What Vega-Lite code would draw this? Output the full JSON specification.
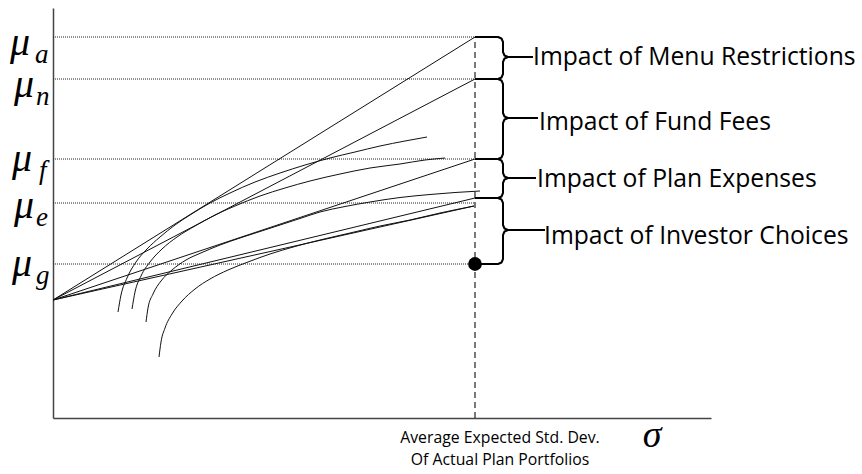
{
  "$schema": "https://vega.github.io/schema/vega-lite/v6.json",
  "width": 658,
  "height": 410,
  "autosize": {"type": "none"},
  "padding": {"left": 53, "top": 8, "right": 151, "bottom": 56},
  "background": "white",
  "config": {
    "view": {"stroke": null},
    "axis": {"labels": false, "ticks": false, "grid": false, "domainColor": "#444", "domainWidth": 1.5}
  },
  "datasets": {
    "hl": [
      {"x": 0, "x2": 422, "y": 381},
      {"x": 0, "x2": 422, "y": 339},
      {"x": 0, "x2": 422, "y": 259},
      {"x": 0, "x2": 422, "y": 215},
      {"x": 0, "x2": 422, "y": 154}
    ],
    "vl": [{"x": 422, "y": 0, "y2": 381}],
    "paths": [
      {"id": "L1", "o": 1, "x": 0, "y": 118}, {"id": "L1", "o": 2, "x": 422, "y": 381},
      {"id": "L2", "o": 1, "x": 0, "y": 118}, {"id": "L2", "o": 2, "x": 422, "y": 339},
      {"id": "L3", "o": 1, "x": 0, "y": 118}, {"id": "L3", "o": 2, "x": 422, "y": 259},
      {"id": "L4", "o": 1, "x": 0, "y": 118}, {"id": "L4", "o": 2, "x": 422, "y": 220},
      {"id": "L5", "o": 1, "x": 0, "y": 118}, {"id": "L5", "o": 2, "x": 421, "y": 212},
      {"id": "A", "o": 1, "x": 65, "y": 106}, {"id": "A", "o": 2, "x": 68, "y": 123},
      {"id": "A", "o": 3, "x": 74, "y": 140}, {"id": "A", "o": 4, "x": 83, "y": 156},
      {"id": "A", "o": 5, "x": 94, "y": 169}, {"id": "A", "o": 6, "x": 107, "y": 181},
      {"id": "A", "o": 7, "x": 122, "y": 193}, {"id": "A", "o": 8, "x": 137, "y": 203},
      {"id": "A", "o": 9, "x": 157, "y": 215}, {"id": "A", "o": 10, "x": 177, "y": 225},
      {"id": "A", "o": 11, "x": 202, "y": 236}, {"id": "A", "o": 12, "x": 227, "y": 245},
      {"id": "A", "o": 13, "x": 252, "y": 253}, {"id": "A", "o": 14, "x": 277, "y": 260},
      {"id": "A", "o": 15, "x": 302, "y": 266}, {"id": "A", "o": 16, "x": 327, "y": 272},
      {"id": "A", "o": 17, "x": 352, "y": 277}, {"id": "A", "o": 18, "x": 374, "y": 281},
      {"id": "B", "o": 1, "x": 79, "y": 109}, {"id": "B", "o": 2, "x": 82, "y": 126},
      {"id": "B", "o": 3, "x": 88, "y": 142}, {"id": "B", "o": 4, "x": 97, "y": 156},
      {"id": "B", "o": 5, "x": 109, "y": 169}, {"id": "B", "o": 6, "x": 124, "y": 181},
      {"id": "B", "o": 7, "x": 142, "y": 192}, {"id": "B", "o": 8, "x": 162, "y": 203},
      {"id": "B", "o": 9, "x": 182, "y": 212}, {"id": "B", "o": 10, "x": 207, "y": 222},
      {"id": "B", "o": 11, "x": 232, "y": 230}, {"id": "B", "o": 12, "x": 257, "y": 237},
      {"id": "B", "o": 13, "x": 287, "y": 244}, {"id": "B", "o": 14, "x": 317, "y": 250},
      {"id": "B", "o": 15, "x": 347, "y": 254}, {"id": "B", "o": 16, "x": 372, "y": 258},
      {"id": "B", "o": 17, "x": 392, "y": 260},
      {"id": "C", "o": 1, "x": 93, "y": 96}, {"id": "C", "o": 2, "x": 95, "y": 110},
      {"id": "C", "o": 3, "x": 100, "y": 124}, {"id": "C", "o": 4, "x": 108, "y": 137},
      {"id": "C", "o": 5, "x": 119, "y": 148}, {"id": "C", "o": 6, "x": 133, "y": 158},
      {"id": "C", "o": 7, "x": 149, "y": 165.5}, {"id": "C", "o": 8, "x": 167, "y": 173},
      {"id": "C", "o": 9, "x": 187, "y": 180}, {"id": "C", "o": 10, "x": 207, "y": 186.5},
      {"id": "C", "o": 11, "x": 227, "y": 193}, {"id": "C", "o": 12, "x": 247, "y": 199.5},
      {"id": "C", "o": 13, "x": 267, "y": 206}, {"id": "C", "o": 14, "x": 292, "y": 211.5},
      {"id": "C", "o": 15, "x": 317, "y": 216}, {"id": "C", "o": 16, "x": 347, "y": 220.5},
      {"id": "C", "o": 17, "x": 377, "y": 223.5}, {"id": "C", "o": 18, "x": 402, "y": 225.5},
      {"id": "C", "o": 19, "x": 427, "y": 227},
      {"id": "D", "o": 1, "x": 106, "y": 61}, {"id": "D", "o": 2, "x": 108, "y": 76},
      {"id": "D", "o": 3, "x": 112, "y": 90}, {"id": "D", "o": 4, "x": 119, "y": 104},
      {"id": "D", "o": 5, "x": 129, "y": 117}, {"id": "D", "o": 6, "x": 142, "y": 129},
      {"id": "D", "o": 7, "x": 157, "y": 139}, {"id": "D", "o": 8, "x": 175, "y": 148},
      {"id": "D", "o": 9, "x": 195, "y": 156}, {"id": "D", "o": 10, "x": 217, "y": 164},
      {"id": "D", "o": 11, "x": 242, "y": 171.5}, {"id": "D", "o": 12, "x": 267, "y": 178},
      {"id": "D", "o": 13, "x": 297, "y": 185}, {"id": "D", "o": 14, "x": 327, "y": 192},
      {"id": "D", "o": 15, "x": 357, "y": 198}, {"id": "D", "o": 16, "x": 387, "y": 205},
      {"id": "D", "o": 17, "x": 421, "y": 212}
    ],
    "braces": [
      {"b": 1, "o": 1, "x": 422, "y": 381}, {"b": 1, "o": 2, "x": 445, "y": 381},
      {"b": 1, "o": 3, "x": 448.5, "y": 379.5}, {"b": 1, "o": 4, "x": 450, "y": 376},
      {"b": 1, "o": 5, "x": 450, "y": 366}, {"b": 1, "o": 6, "x": 451.5, "y": 362.5},
      {"b": 1, "o": 7, "x": 455, "y": 361}, {"b": 1, "o": 8, "x": 451.5, "y": 359.5},
      {"b": 1, "o": 9, "x": 450, "y": 356}, {"b": 1, "o": 10, "x": 450, "y": 344},
      {"b": 1, "o": 11, "x": 448.5, "y": 340.5}, {"b": 1, "o": 12, "x": 445, "y": 339},
      {"b": 1, "o": 13, "x": 422, "y": 339},
      {"b": 2, "o": 1, "x": 422, "y": 339}, {"b": 2, "o": 2, "x": 445, "y": 339},
      {"b": 2, "o": 3, "x": 448.5, "y": 337.5}, {"b": 2, "o": 4, "x": 450, "y": 334},
      {"b": 2, "o": 5, "x": 450, "y": 305}, {"b": 2, "o": 6, "x": 451.5, "y": 301.5},
      {"b": 2, "o": 7, "x": 455, "y": 300}, {"b": 2, "o": 8, "x": 451.5, "y": 298.5},
      {"b": 2, "o": 9, "x": 450, "y": 295}, {"b": 2, "o": 10, "x": 450, "y": 264},
      {"b": 2, "o": 11, "x": 448.5, "y": 260.5}, {"b": 2, "o": 12, "x": 445, "y": 259},
      {"b": 2, "o": 13, "x": 422, "y": 259},
      {"b": 3, "o": 1, "x": 422, "y": 259}, {"b": 3, "o": 2, "x": 445, "y": 259},
      {"b": 3, "o": 3, "x": 448.5, "y": 257.5}, {"b": 3, "o": 4, "x": 450, "y": 254},
      {"b": 3, "o": 5, "x": 450, "y": 245}, {"b": 3, "o": 6, "x": 451.5, "y": 241.5},
      {"b": 3, "o": 7, "x": 455, "y": 240}, {"b": 3, "o": 8, "x": 451.5, "y": 238.5},
      {"b": 3, "o": 9, "x": 450, "y": 235}, {"b": 3, "o": 10, "x": 450, "y": 225},
      {"b": 3, "o": 11, "x": 448.5, "y": 221.5}, {"b": 3, "o": 12, "x": 445, "y": 220},
      {"b": 3, "o": 13, "x": 422, "y": 220},
      {"b": 4, "o": 1, "x": 422, "y": 220}, {"b": 4, "o": 2, "x": 445, "y": 220},
      {"b": 4, "o": 3, "x": 448.5, "y": 218.5}, {"b": 4, "o": 4, "x": 450, "y": 215},
      {"b": 4, "o": 5, "x": 450, "y": 193}, {"b": 4, "o": 6, "x": 451.5, "y": 189.5},
      {"b": 4, "o": 7, "x": 455, "y": 188}, {"b": 4, "o": 8, "x": 451.5, "y": 186.5},
      {"b": 4, "o": 9, "x": 450, "y": 183}, {"b": 4, "o": 10, "x": 450, "y": 159},
      {"b": 4, "o": 11, "x": 448.5, "y": 155.5}, {"b": 4, "o": 12, "x": 445, "y": 154},
      {"b": 4, "o": 13, "x": 422, "y": 154}
    ],
    "connectors": [
      {"x": 455, "x2": 480, "y": 361},
      {"x": 455, "x2": 485, "y": 300},
      {"x": 455, "x2": 483, "y": 240},
      {"x": 455, "x2": 492, "y": 188}
    ],
    "dot": [{"x": 422, "y": 154}],
    "impacts": [
      {"x": 480, "y": 360, "t": "Impact of Menu Restrictions"},
      {"x": 486, "y": 295, "t": "Impact of Fund Fees"},
      {"x": 484, "y": 238, "t": "Impact of Plan Expenses"},
      {"x": 491, "y": 181, "t": "Impact of Investor Choices"}
    ],
    "mu": [
      {"x": -43, "y": 363, "t": "μ"},
      {"x": -39, "y": 321, "t": "μ"},
      {"x": -41, "y": 247, "t": "μ"},
      {"x": -39, "y": 200, "t": "μ"},
      {"x": -41, "y": 142, "t": "μ"}
    ],
    "subs": [
      {"x": -18, "y": 355, "t": "a"},
      {"x": -17, "y": 313, "t": "n"},
      {"x": -14, "y": 239, "t": "f"},
      {"x": -17, "y": 192, "t": "e"},
      {"x": -17, "y": 134, "t": "g"}
    ],
    "xlab": [
      {"x": 447, "y": -25, "t": "Average Expected Std. Dev."},
      {"x": 447, "y": -47, "t": "Of Actual Plan Portfolios"}
    ],
    "sigma": [{"x": 599, "y": -29, "t": "σ"}]
  },
  "layer": [
    {
      "data": {"name": "hl"},
      "mark": {"type": "rule", "color": "#222", "strokeWidth": 1, "strokeDash": [1, 1]},
      "encoding": {
        "x": {"field": "x", "type": "quantitative", "title": null, "scale": {"domain": [0, 658], "nice": false, "zero": false}},
        "x2": {"field": "x2"},
        "y": {"field": "y", "type": "quantitative", "title": null, "scale": {"domain": [0, 410], "nice": false, "zero": false}}
      }
    },
    {
      "data": {"name": "vl"},
      "mark": {"type": "rule", "color": "#222", "strokeWidth": 1.2, "strokeDash": [6, 4]},
      "encoding": {
        "x": {"field": "x", "type": "quantitative", "title": null},
        "y": {"field": "y", "type": "quantitative", "title": null},
        "y2": {"field": "y2"}
      }
    },
    {
      "data": {"name": "paths"},
      "mark": {"type": "line", "color": "#111", "strokeWidth": 1, "interpolate": "monotone"},
      "encoding": {
        "x": {"field": "x", "type": "quantitative", "title": null},
        "y": {"field": "y", "type": "quantitative", "title": null},
        "detail": {"field": "id"},
        "order": {"field": "o", "type": "quantitative"}
      }
    },
    {
      "data": {"name": "braces"},
      "mark": {"type": "line", "color": "#000", "strokeWidth": 2, "strokeJoin": "round"},
      "encoding": {
        "x": {"field": "x", "type": "quantitative", "title": null},
        "y": {"field": "y", "type": "quantitative", "title": null},
        "detail": {"field": "b"},
        "order": {"field": "o", "type": "quantitative"}
      }
    },
    {
      "data": {"name": "connectors"},
      "mark": {"type": "rule", "color": "#000", "strokeWidth": 2},
      "encoding": {
        "x": {"field": "x", "type": "quantitative", "title": null},
        "x2": {"field": "x2"},
        "y": {"field": "y", "type": "quantitative", "title": null}
      }
    },
    {
      "data": {"name": "dot"},
      "mark": {"type": "point", "filled": true, "color": "#000", "size": 190, "opacity": 1},
      "encoding": {
        "x": {"field": "x", "type": "quantitative", "title": null},
        "y": {"field": "y", "type": "quantitative", "title": null}
      }
    },
    {
      "data": {"name": "impacts"},
      "mark": {"type": "text", "font": "Open Sans", "fontSize": 24.7, "align": "left", "baseline": "middle", "color": "#000"},
      "encoding": {
        "x": {"field": "x", "type": "quantitative", "title": null},
        "y": {"field": "y", "type": "quantitative", "title": null},
        "text": {"field": "t"}
      }
    },
    {
      "data": {"name": "mu"},
      "mark": {"type": "text", "font": "Liberation Serif", "fontStyle": "italic", "fontSize": 40, "align": "left", "baseline": "alphabetic", "color": "#000"},
      "encoding": {
        "x": {"field": "x", "type": "quantitative", "title": null},
        "y": {"field": "y", "type": "quantitative", "title": null},
        "text": {"field": "t"}
      }
    },
    {
      "data": {"name": "subs"},
      "mark": {"type": "text", "font": "Liberation Serif", "fontStyle": "italic", "fontSize": 27, "align": "left", "baseline": "alphabetic", "color": "#000"},
      "encoding": {
        "x": {"field": "x", "type": "quantitative", "title": null},
        "y": {"field": "y", "type": "quantitative", "title": null},
        "text": {"field": "t"}
      }
    },
    {
      "data": {"name": "xlab"},
      "mark": {"type": "text", "font": "Open Sans", "fontSize": 15.8, "align": "center", "baseline": "alphabetic", "color": "#000"},
      "encoding": {
        "x": {"field": "x", "type": "quantitative", "title": null},
        "y": {"field": "y", "type": "quantitative", "title": null},
        "text": {"field": "t"}
      }
    },
    {
      "data": {"name": "sigma"},
      "mark": {"type": "text", "font": "Liberation Serif", "fontStyle": "italic", "fontSize": 38, "align": "center", "baseline": "alphabetic", "color": "#000"},
      "encoding": {
        "x": {"field": "x", "type": "quantitative", "title": null},
        "y": {"field": "y", "type": "quantitative", "title": null},
        "text": {"field": "t"}
      }
    }
  ]
}
